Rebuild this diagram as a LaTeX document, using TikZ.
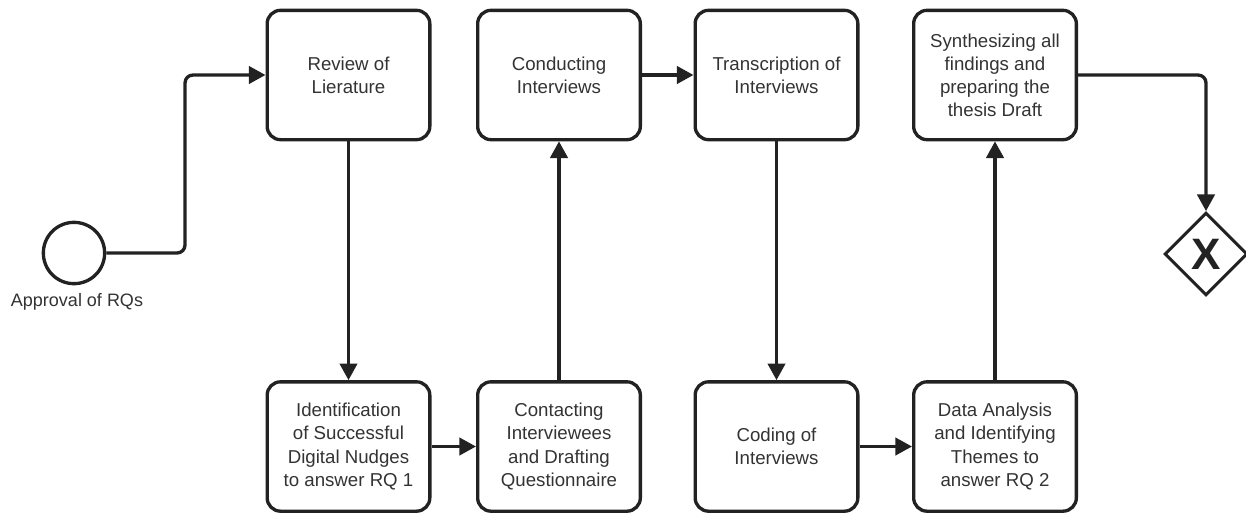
\documentclass[tikz,border=0pt]{standalone}
\usepackage{fontspec}
\setmainfont{Liberation Sans}
\usetikzlibrary{arrows.meta,shapes.geometric}
\definecolor{ln}{HTML}{222222}
\definecolor{tx}{HTML}{333333}
\begin{document}
\begin{tikzpicture}[x=0.75pt,y=-0.75pt,
 task/.style={draw=ln,line width=2.5pt,rounded corners=10pt,minimum width=122pt,minimum height=97pt,align=center,font=\fontsize{14}{17.3}\selectfont,text=tx,inner sep=0pt},
 flow/.style={draw=ln,line width=2.5pt,-{Triangle[length=12.5pt,width=13pt]},rounded corners=6pt},
 lbl/.style={text=tx,font=\fontsize{13.5}{16}\selectfont}]
\useasboundingbox (0,0) rectangle (1246,512);
\node[circle,draw=ln,line width=2.5pt,minimum size=46pt,inner sep=0pt] (start) at (74,253) {};
\node[lbl] (startlbl) at (77,302) {Approval of RQs};
\node[task] (review) at (348.5,75) {Review of\\Lierature};
\node[task] (ident) at (348.5,446.5) {Identification\\of Successful\\Digital Nudges\\to answer RQ 1};
\node[task] (contact) at (559,446.5) {Contacting\\Interviewees\\and Drafting\\Questionnaire};
\node[task] (conduct) at (559,75) {Conducting\\Interviews};
\node[task] (transc) at (776.5,75) {Transcription of\\Interviews};
\node[task] (coding) at (776.5,446.5) {Coding of\\Interviews};
\node[task] (data) at (995,446.5) {Data Analysis\\and Identifying\\Themes to\\answer RQ 2};
\node[task] (synth) at (995,75) {Synthesizing all\\findings and\\preparing the\\thesis Draft};
\node[diamond,draw=ln,line width=2.3pt,minimum size=62pt,inner sep=0pt,font=\fontsize{33}{33}\bfseries\selectfont,text=ln] (gw) at (1206,254) {X};
\coordinate (c1) at (185,253);
\draw[flow] (start.east) -- (c1) |- (review.west);
\draw[flow] (review) -- (ident);
\draw[flow] (ident) -- (contact);
\draw[flow] (contact) -- (conduct);
\draw[flow] (conduct) -- (transc);
\draw[flow] (transc) -- (coding);
\draw[flow] (coding) -- (data);
\draw[flow] (data) -- (synth);
\draw[flow] (synth.east) -| (gw.north);
\end{tikzpicture}
\end{document}
